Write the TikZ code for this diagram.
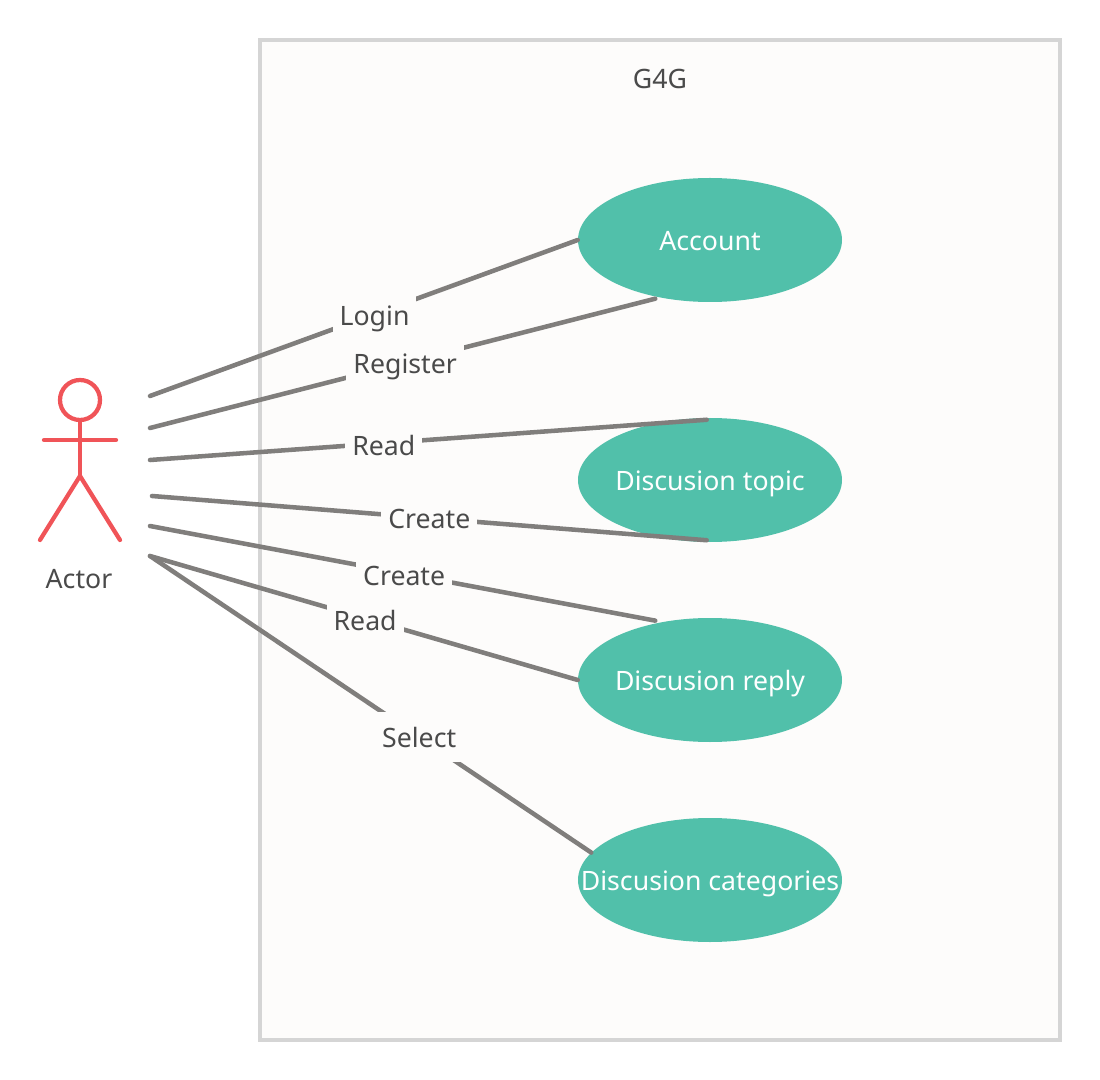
\documentclass[tikz,border=0pt]{standalone}
\usepackage{fontspec}
\setmainfont{Noto Sans}
\usetikzlibrary{shapes.geometric}
\definecolor{framefill}{HTML}{FDFCFB}
\definecolor{framedraw}{HTML}{D5D5D5}
\definecolor{casefill}{HTML}{51C0AA}
\definecolor{linkdraw}{HTML}{807E7C}
\definecolor{actordraw}{HTML}{F05458}
\definecolor{textgray}{HTML}{4A4A4A}
\newcommand{\caselabel}[1]{\makebox[0pt]{#1}}
\tikzstyle{usecase} = [ellipse, minimum width=198pt, minimum height=93pt, inner sep=0pt, fill=casefill, text=white, font=\fontsize{20}{24}\selectfont, text height=18pt, text depth=2.5pt]
\tikzstyle{plain} = [text=textgray, inner sep=0pt, font=\fontsize{20}{24}\selectfont, text height=18pt, text depth=2.5pt]
\tikzstyle{linklabel} = [plain, fill=framefill, inner xsep=5.25pt, minimum height=37.5pt]
\tikzstyle{link} = [line width=3.4pt, draw=linkdraw, line cap=round]
\tikzstyle{stick} = [line width=3.2pt, draw=actordraw, line cap=round]

\begin{document}
\begin{tikzpicture}[x=0.75pt, y=-0.75pt]
    \useasboundingbox (0,0) rectangle (1100,1080);
    \draw [line width=3.4pt, draw=framedraw, fill=framefill] (260,40) rectangle (1060,1040);
    \node (System) [plain] at (660,78) {G4G};

    % use cases
    \node (Account) [usecase] at (710,240) {\caselabel{Account}};
    \node (Topic) [usecase] at (710,480) {\caselabel{Discusion topic}};
    \node (Reply) [usecase] at (710,680) {\caselabel{Discusion reply}};
    \node (Categories) [usecase] at (710,880) {\caselabel{Discusion categories}};

    % actor
    \node (Head) [circle, stick, fill=white, minimum size=30pt, inner sep=0pt] at (80,400) {};
    \coordinate (Hip) at (80,476);
    \coordinate (ArmL) at (44,440);
    \coordinate (ArmR) at (116,440);
    \coordinate (FootL) at (40,540);
    \coordinate (FootR) at (120,540);
    \draw [stick] (Head) -- (Hip);
    \draw [stick] (ArmL) -- (ArmR);
    \draw [stick] (FootL) -- (Hip) -- (FootR);
    \node (Actor) [plain] at (79,578) {Actor};

    % free ends of the links
    \coordinate (Link1) at (150,396);
    \coordinate (Link2) at (150,428);
    \coordinate (Link3) at (150,460);
    \coordinate (Link4) at (152,496);
    \coordinate (Link5) at (150,526);
    \coordinate (Link6) at (150,556);

    \draw [link] (Link1) -- node [linklabel, pos=0.525, yshift=-0.5pt] {Login} (Account.west);
    \draw [link] (Link2) -- node [linklabel, pos=0.505, yshift=-0.5pt] {Register} ([yshift=-1.5pt]Account.226);
    \draw [link] (Link3) -- node [linklabel, pos=0.42, yshift=-1.5pt] {Read} ([yshift=-1.5pt]Topic.93);
    \draw [link] (Link4) -- node [linklabel] {Create} ([yshift=1.5pt]Topic.267);
    \draw [link] (Link5) -- node [linklabel, pos=0.503, yshift=-1pt] {Create} ([yshift=2pt]Reply.134);
    \draw [link] (Link6) -- node [linklabel, pos=0.503, yshift=-1pt] {Read} (Reply.west);
    \draw [link] (Link6) -- node [linklabel, pos=0.61] {Select} (Categories.167);
\end{tikzpicture}
\end{document}
